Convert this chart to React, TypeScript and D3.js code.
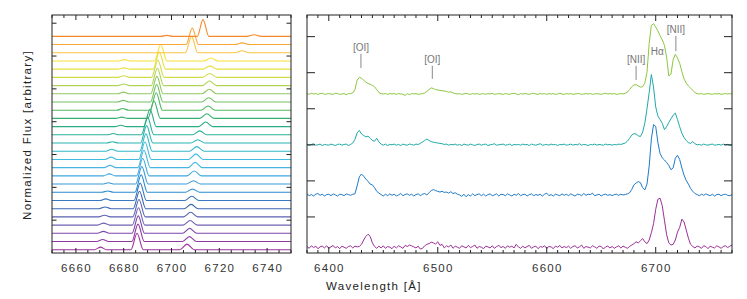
import * as d3 from 'd3';

// ---- left panel: stacked spectra, bottom (0) to top (26) ----
const leftOffsets = [
  0.1, 0.35, 0.6, 0.85, 1.1, 1.35, 1.6, 1.85, 2.1, 2.35, 2.6, 2.85, 3.1, 3.35,
  3.6, 3.85, 4.1, 4.35, 4.6, 4.85, 5.1, 5.35, 5.6, 5.85, 6.1, 6.35, 6.6,
];

const leftColors = [
  '#a0309c', '#8e3aa2', '#7b45aa', '#7060b4', '#5a62b2', '#3a66b0', '#3a78bf',
  '#2a8ccf', '#3a9ad8', '#40a8e0', '#48b4e2', '#40bce0', '#30b8c8', '#28b4b0',
  '#2ab098', '#2aac84', '#38b070', '#50b860', '#70c060', '#90c860', '#b0d458',
  '#d0dc48', '#e8e040', '#f8e038', '#f9c444', '#f8a636', '#f5882a',
];

// knots [wavelength, flux above baseline]
const leftTraces: [number, number][][] = [
  [[6650, 0], [6667.8, 0], [6670.3, 0.08], [6672.8, 0], [6683, 0], [6685.6, 0.5], [6688.2, 0], [6703.5, 0], [6706.5, 0.17], [6709.5, 0], [6750, 0]],
  [[6650, 0], [6668.7, 0], [6671.2, 0.06], [6673.7, 0], [6683.4, 0], [6686, 0.53], [6688.6, 0], [6704.5, 0], [6707.5, 0.15], [6710.5, 0], [6750, 0]],
  [[6650, 0], [6669, 0], [6671.5, 0.06], [6674, 0], [6683.5, 0], [6686.1, 0.53], [6688.7, 0], [6704.6, 0], [6707.6, 0.15], [6710.6, 0], [6750, 0]],
  [[6650, 0], [6669.1, 0], [6671.6, 0.06], [6674.1, 0], [6683.6, 0], [6686.2, 0.53], [6688.8, 0], [6704.8, 0], [6707.8, 0.14], [6710.8, 0], [6750, 0]],
  [[6650, 0], [6669.5, 0], [6672, 0.05], [6674.5, 0], [6683.8, 0], [6686.4, 0.53], [6689, 0], [6705, 0], [6708, 0.14], [6711, 0], [6750, 0]],
  [[6650, 0], [6669.7, 0], [6672.2, 0.05], [6674.7, 0], [6684, 0], [6686.6, 0.53], [6689.2, 0], [6705.2, 0], [6708.2, 0.13], [6711.2, 0], [6750, 0]],
  [[6650, 0], [6670, 0], [6672.5, 0.05], [6675, 0], [6684.3, 0], [6686.9, 0.53], [6689.5, 0], [6705.5, 0], [6708.5, 0.13], [6711.5, 0], [6750, 0]],
  [[6650, 0], [6670.8, 0], [6673.3, 0.04], [6675.8, 0], [6684.7, 0], [6687.3, 0.53], [6689.9, 0], [6705.8, 0], [6708.8, 0.1], [6711.8, 0], [6750, 0]],
  [[6650, 0], [6671.1, 0], [6673.6, 0.04], [6676.1, 0], [6685, 0], [6687.6, 0.53], [6690.2, 0], [6706.2, 0], [6709.2, 0.1], [6712.2, 0], [6750, 0]],
  [[6650, 0], [6671.5, 0], [6674, 0.06], [6676.5, 0], [6685.4, 0], [6688, 0.53], [6690.6, 0], [6706.5, 0], [6709.5, 0.15], [6712.5, 0], [6750, 0]],
  [[6650, 0], [6671.8, 0], [6674.3, 0.07], [6676.8, 0], [6685.9, 0], [6688.5, 0.53], [6691.1, 0], [6706.9, 0], [6709.9, 0.16], [6712.9, 0], [6750, 0]],
  [[6650, 0], [6672.2, 0], [6674.7, 0.07], [6677.2, 0], [6686.3, 0], [6688.9, 0.53], [6691.5, 0], [6707.2, 0], [6710.2, 0.17], [6713.2, 0], [6750, 0]],
  [[6650, 0], [6672.5, 0], [6675, 0.06], [6677.5, 0], [6686.7, 0], [6689.3, 0.53], [6691.9, 0], [6707.6, 0], [6710.6, 0.14], [6713.6, 0], [6750, 0]],
  [[6650, 0], [6672.8, 0], [6675.3, 0.04], [6677.8, 0], [6687, 0], [6689.6, 0.53], [6692.2, 0], [6708, 0], [6711, 0.1], [6714, 0], [6750, 0]],
  [[6650, 0], [6673.1, 0], [6675.6, 0.04], [6678.1, 0], [6687.4, 0], [6690, 0.53], [6692.6, 0], [6708.8, 0], [6711.8, 0.12], [6714.8, 0], [6750, 0]],
  [[6650, 0], [6676.3, 0], [6678.8, 0.04], [6681.3, 0], [6688.4, 0], [6691, 0.53], [6693.6, 0], [6711.3, 0], [6714.3, 0.14], [6717.3, 0], [6750, 0]],
  [[6650, 0], [6676.7, 0], [6679.2, 0.04], [6681.7, 0], [6690.1, 0], [6692.7, 0.53], [6695.3, 0], [6711.8, 0], [6714.8, 0.14], [6717.8, 0], [6750, 0]],
  [[6650, 0], [6677.1, 0], [6679.6, 0.05], [6682.1, 0], [6691, 0], [6693.6, 0.53], [6696.2, 0], [6712.3, 0], [6715.3, 0.13], [6718.3, 0], [6750, 0]],
  [[6650, 0], [6677.3, 0], [6679.8, 0.05], [6682.3, 0], [6691.2, 0], [6693.8, 0.53], [6696.4, 0], [6712.6, 0], [6715.6, 0.13], [6718.6, 0], [6750, 0]],
  [[6650, 0], [6677.4, 0], [6679.9, 0.05], [6682.4, 0], [6691.3, 0], [6693.9, 0.53], [6696.5, 0], [6712.8, 0], [6715.8, 0.14], [6718.8, 0], [6750, 0]],
  [[6650, 0], [6677.5, 0], [6680, 0.05], [6682.5, 0], [6691.5, 0], [6694.1, 0.53], [6696.7, 0], [6712.9, 0], [6715.9, 0.14], [6718.9, 0], [6750, 0]],
  [[6650, 0], [6677.5, 0], [6680, 0.05], [6682.5, 0], [6691.7, 0], [6694.3, 0.53], [6696.9, 0], [6713, 0], [6716, 0.12], [6719, 0], [6750, 0]],
  [[6650, 0], [6677.6, 0], [6680.1, 0.04], [6682.6, 0], [6692.3, 0], [6694.9, 0.52], [6697.5, 0], [6713.1, 0], [6716.1, 0.1], [6719.1, 0], [6750, 0]],
  [[6650, 0], [6677.8, 0], [6680.3, 0.04], [6682.8, 0], [6692.9, 0], [6695.5, 0.5], [6698.1, 0], [6713.5, 0], [6716.5, 0.09], [6719.5, 0], [6750, 0]],
  [[6650, 0], [6705.8, 0], [6708.4, 0.5], [6711, 0], [6726.5, 0], [6729.5, 0.06], [6732.5, 0], [6750, 0]],
  [[6650, 0], [6706.1, 0], [6708.7, 0.5], [6711.3, 0], [6726.6, 0], [6729.6, 0.05], [6732.6, 0], [6750, 0]],
  [[6650, 0], [6695.5, 0], [6698, 0.03], [6700.5, 0], [6710.8, 0], [6713.2, 0.51], [6715.6, 0], [6731.5, 0], [6734.5, 0.05], [6737.5, 0], [6750, 0]],
];

const leftXLabels = [6660, 6680, 6700, 6720, 6740];
const leftYTicks = [1, 2, 3, 4, 5, 6, 7];

// ---- right panel: four full spectra on a 2 A grid, 6380..6770 ----
const rightWave = d3.range(6380, 6771, 2);

const greenFlux = [
  0.01, -0.01, 0.02, 0, 0.01, -0.01, 0.01, 0.02, -0.01, 0,
  0.01, 0, -0.01, 0.02, 0.01, -0.01, 0, 0.01, -0.02, 0.01,
  0.01, 0.03, 0.12, 0.38, 0.46, 0.44, 0.38, 0.33, 0.29, 0.27,
  0.24, 0.2, 0.12, 0.04, 0.01, 0, 0.01, -0.01, 0.01, 0,
  0.01, -0.01, 0.01, 0, -0.01, -0.04, 0.01, -0.02, 0.01, 0,
  0.01, -0.01, 0, 0.01, 0.03, 0.07, 0.12, 0.17, 0.15, 0.12,
  0.11, 0.1, 0.09, 0.08, 0.07, 0.05, 0.06, 0.03, 0.01, 0,
  0.01, -0.01, 0, 0.02, 0, -0.01, 0.01, 0, 0.01, -0.01,
  0, 0.01, -0.01, 0.01, 0, 0.02, -0.01, 0, 0.01, 0,
  -0.01, 0.01, 0, -0.01, 0.01, 0.02, 0, -0.02, 0.01, 0,
  0.01, 0, -0.01, 0.01, 0.02, 0, -0.01, 0.01, 0, 0.01,
  -0.01, 0.01, 0, 0.01, -0.01, 0, 0.02, 0, -0.01, 0.01,
  0, 0.01, -0.01, 0, 0.01, 0.01, -0.01, 0, 0.01, 0,
  0.01, -0.01, 0, 0.01, 0, -0.01, 0.01, 0.02, 0, 0.01,
  0, 0.01, -0.01, 0, 0.01, 0, 0.02, 0.05, 0.12, 0.2,
  0.25, 0.26, 0.22, 0.19, 0.2, 0.3, 0.6, 1.4, 1.9, 1.95,
  1.85, 1.75, 1.62, 1.5, 1.35, 1.02, 0.5, 0.55, 0.95, 1.1,
  1.0, 0.85, 0.62, 0.42, 0.3, 0.22, 0.16, 0.1, 0.04, 0.01,
  0, 0.01, -0.01, 0, 0.01, 0, -0.01, 0.01, 0, 0.01,
  -0.01, 0, 0.01, 0, 0.01, 0,
];

const tealFlux = [
  0.02, -0.02, 0.01, 0.03, -0.01, 0, 0.02, -0.02, 0.01, 0,
  -0.01, 0.02, 0, -0.02, 0.01, 0.02, -0.01, 0.01, 0.02, -0.02,
  0.01, 0.05, 0.15, 0.33, 0.4, 0.3, 0.26, 0.22, 0.24, 0.18,
  0.12, 0.1, 0.18, 0.08, 0.02, -0.01, 0.02, -0.02, 0.01, 0,
  0.02, -0.01, 0.01, -0.02, 0.02, 0, -0.01, 0.02, 0.01, -0.01,
  0.02, 0.01, 0.04, 0.08, 0.12, 0.16, 0.12, 0.09, 0.07, 0.06,
  0.05, 0.04, 0.03, 0.01, 0.02, -0.01, 0.01, 0, 0.02, -0.01,
  0.01, -0.02, 0.02, 0, -0.01, 0.02, 0, -0.02, 0.01, 0.02,
  -0.01, 0.01, 0.02, -0.02, 0, 0.01, 0.03, -0.01, 0, 0.01,
  0.02, -0.01, 0, 0.02, -0.02, 0.01, 0, 0.01, -0.01, 0.02,
  0, 0.01, -0.02, 0.02, 0, -0.01, 0.01, 0.03, -0.01, 0,
  0.01, -0.01, 0.02, 0, 0.01, -0.02, 0.01, 0, 0.02, -0.01,
  0, 0.02, -0.01, 0.01, 0, 0.03, -0.01, 0.01, 0, -0.02,
  0.01, 0, 0.02, -0.01, 0.01, 0, -0.01, 0.02, 0, 0.01,
  -0.01, 0.01, 0, 0.02, 0.01, 0.03, 0.05, 0.1, 0.18, 0.27,
  0.31, 0.3, 0.25, 0.23, 0.35, 0.6, 1.0, 1.45, 1.95, 1.6,
  1.05, 0.8, 0.7, 0.6, 0.42, 0.5, 0.62, 0.72, 0.82, 0.88,
  0.7, 0.5, 0.32, 0.2, 0.12, 0.06, 0.04, 0.09, 0.03, 0,
  0.01, -0.01, 0.02, 0, -0.01, 0.01, 0.02, -0.01, 0, 0.01,
  -0.01, 0.02, 0, 0.01, -0.02, 0,
];

const blueFlux = [
  0.03, -0.02, 0.01, -0.03, 0.02, 0.04, -0.01, 0.02, -0.03, 0.01,
  0.02, -0.02, 0.03, 0, -0.03, 0.02, 0.01, -0.02, 0.03, 0.01,
  -0.01, 0.02, 0.03, 0.25, 0.5, 0.58, 0.52, 0.44, 0.38, 0.3,
  0.28, 0.2, 0.1, 0.05, 0.01, -0.03, 0.02, -0.02, 0.03, -0.01,
  0.02, -0.03, 0, 0.04, -0.02, 0.01, 0.03, -0.01, 0.02, -0.03,
  0.01, 0.03, -0.02, 0.02, 0.04, 0, 0.06, 0.12, 0.15, 0.12,
  0.1, 0.08, 0.1, 0.07, 0.08, 0.05, 0.09, 0.04, 0.06, 0.02,
  0, -0.04, 0.02, -0.05, 0.01, -0.03, 0.03, -0.02, 0.01, 0.03,
  -0.02, 0.02, -0.03, 0.01, 0.03, -0.02, 0, 0.03, -0.03, 0.02,
  0.01, -0.02, 0.03, 0, -0.03, 0.02, -0.01, 0.04, -0.02, 0.01,
  0.02, -0.03, 0.01, 0.03, -0.02, 0.01, -0.01, 0.02, -0.03, 0.02,
  0.05, -0.02, 0.01, -0.03, 0.02, 0, -0.02, 0.03, -0.01, 0.02,
  -0.02, 0.03, 0, -0.03, 0.02, 0.01, -0.02, 0.04, -0.01, 0.02,
  0.01, 0.05, -0.02, 0, 0.02, -0.03, 0.01, 0.02, -0.01, 0.01,
  -0.02, 0.01, 0.02, -0.01, 0.02, 0, 0.01, 0.03, 0.06, 0.15,
  0.28, 0.33, 0.37, 0.34, 0.2, 0.14, 0.3, 0.8, 1.55, 1.95,
  1.9, 1.45, 1.15, 1.03, 0.97, 0.9, 0.82, 0.7, 0.75, 1.02,
  1.1, 0.98, 0.75, 0.55, 0.4, 0.3, 0.18, 0.1, 0.04, 0.01,
  -0.02, 0.02, -0.01, 0.03, 0, -0.02, 0.02, -0.03, 0.01, 0.02,
  -0.02, 0.01, 0.02, -0.01, -0.02, 0.01,
];

const magentaFlux = [
  0.02, -0.03, 0.04, -0.01, 0.03, -0.04, 0.01, 0.03, -0.02, 0.04,
  -0.03, 0.01, 0.05, -0.02, 0.02, -0.04, 0.03, 0, -0.03, 0.02,
  0.04, -0.02, 0.03, 0.01, 0.02, 0.08, 0.2, 0.3, 0.36, 0.3,
  0.12, 0.02, -0.03, 0.03, -0.02, 0.04, -0.03, 0.02, 0, -0.04,
  0.03, -0.02, 0.04, 0.01, -0.03, 0.05, 0.02, 0.06, 0.04, 0.01,
  -0.02, 0.03, -0.05, -0.03, 0.04, 0.08, 0.1, 0.14, 0.12, 0.09,
  0.15, 0.05, 0.08, -0.02, 0.04, 0.01, 0.06, -0.03, 0.03, 0,
  -0.03, 0.04, 0.01, -0.02, 0.05, -0.01, 0.02, 0.06, -0.03, 0.02,
  0, -0.04, 0.03, 0.01, -0.02, 0.04, -0.03, 0.02, 0.05, -0.01,
  0.02, -0.03, 0.04, 0, 0.03, -0.02, 0.08, 0.01, -0.03, 0.03,
  -0.02, 0.02, 0.05, -0.03, 0.01, 0.03, -0.04, 0.02, 0, 0.04,
  -0.03, 0.02, 0.01, -0.04, 0.03, 0, 0.05, -0.02, 0.02, -0.01,
  0.03, -0.03, 0.02, 0.04, -0.02, 0.01, 0.06, -0.03, 0.02, 0,
  -0.02, 0.04, 0.01, -0.03, 0.03, 0.02, -0.05, 0.01, 0.03, -0.02,
  0.02, -0.03, 0.01, 0.04, -0.02, 0.03, 0, -0.03, 0.02, 0.06,
  0.1, 0.15, 0.12, 0.18, 0.24, 0.15, 0.1, 0.2, 0.4, 0.65,
  1.05, 1.33, 1.36, 1.15, 0.75, 0.35, 0.12, 0.06, 0.08, 0.2,
  0.42, 0.55, 0.78, 0.7, 0.48, 0.25, 0.08, 0.02, -0.02, 0.03,
  0.01, -0.03, 0.04, 0.02, -0.04, 0.03, 0, -0.02, 0.04, 0.01,
  -0.03, 0.02, 0.04, -0.01, 0.03, 0.06,
];

const rightFluxes = [greenFlux, tealFlux, blueFlux, magentaFlux];
const rightOffsets = [4.41, 3.0, 1.61, 0.16];
const rightColors = ['#8dc63f', '#1faaa8', '#1f7ac8', '#9b2f98'];

const rightXLabels = [6400, 6500, 6600, 6700];
const rightYTicks = [1, 2, 3, 4, 5, 6];

// line identifications on the top spectrum
const idLabels = ['[OI]', '[OI]', '[NII]', '[NII]'];
const idWaves = [6429.5, 6495, 6682, 6718.5];
const idTextY = [5.59, 5.28, 5.28, 6.09];
const idLineTop = [5.52, 5.19, 5.19, 6.02];
const idLineBottom = [5.13, 4.83, 4.8, 5.6];

const font = '"Liberation Sans", Arial, Helvetica, sans-serif';

export default function App() {
  const top = 15;
  const bottom = 253;

  const xL = d3.scaleLinear().domain([6650, 6750]).range([52, 291]);
  const yL = d3.scaleLinear().domain([0, 7.25]).range([bottom, top]);
  const xR = d3.scaleLinear().domain([6380, 6770]).range([307, 732]);
  const yR = d3.scaleLinear().domain([0, 6.6]).range([bottom, top]);

  const leftMinor = d3.range(6650, 6751, 5);
  const rightMinor = d3.range(6380, 6771, 10);

  const tickText = { fontFamily: font, fontSize: 11.5, letterSpacing: 1.3, fill: '#333' };

  return (
    <svg
      width={747}
      height={299}
      style={{ position: 'absolute', left: 0, top: 0, background: '#fff' }}
    >
      {/* left panel spectra */}
      {leftTraces.map((tr, i) => {
        const line = d3
          .line<[number, number]>()
          .x((d) => xL(d[0]))
          .y((d) => yL(d[1] + leftOffsets[i]))
          .curve(d3.curveMonotoneX);
        return (
          <path key={'l' + i} d={line(tr) || ''} fill="none" stroke={leftColors[i]} strokeWidth={1.1} />
        );
      })}

      {/* right panel spectra */}
      {rightFluxes.map((fl, i) => {
        const line = d3
          .line<number>()
          .x((_, k) => xR(rightWave[k]))
          .y((d) => yR(d + rightOffsets[i]));
        return (
          <path key={'r' + i} d={line(fl) || ''} fill="none" stroke={rightColors[i]} strokeWidth={1} strokeLinejoin="round" />
        );
      })}

      {/* line ids */}
      {idLabels.map((lab, i) => (
        <g key={'id' + i}>
          <text
            x={xR(idWaves[i])}
            y={yR(idTextY[i])}
            textAnchor="middle"
            fontFamily={font}
            fontSize={10}
            fill="#777"
          >
            {lab}
          </text>
          <line
            x1={xR(idWaves[i])}
            x2={xR(idWaves[i])}
            y1={yR(idLineTop[i])}
            y2={yR(idLineBottom[i])}
            stroke="#888"
            strokeWidth={1}
          />
        </g>
      ))}
      <text x={xR(6701.5)} y={yR(5.49)} textAnchor="middle" fontFamily={font} fontSize={10} fill="#777">
        Hα
      </text>

      {/* left frame + ticks */}
      <rect x={52} y={top} width={239} height={bottom - top} fill="none" stroke="#222" strokeWidth={1} />
      {leftMinor.map((v) => {
        const major = v % 20 === 0;
        const len = major ? 5 : 3;
        return (
          <g key={'lt' + v}>
            <line x1={xL(v)} x2={xL(v)} y1={bottom} y2={bottom - len} stroke="#222" />
            <line x1={xL(v)} x2={xL(v)} y1={top} y2={top + len} stroke="#222" />
          </g>
        );
      })}
      {leftYTicks.map((v) => (
        <g key={'ly' + v}>
          <line x1={52} x2={56.5} y1={yL(v)} y2={yL(v)} stroke="#222" />
          <line x1={291} x2={286.5} y1={yL(v)} y2={yL(v)} stroke="#222" />
        </g>
      ))}
      {leftXLabels.map((v) => (
        <text key={'lx' + v} x={xL(v) + 0.6} y={272} textAnchor="middle" {...tickText}>
          {v}
        </text>
      ))}

      {/* right frame + ticks */}
      <rect x={307} y={top} width={425} height={bottom - top} fill="none" stroke="#222" strokeWidth={1} />
      {rightMinor.map((v) => {
        const major = v % 100 === 0;
        const len = major ? 6 : 3;
        return (
          <g key={'rt' + v}>
            <line x1={xR(v)} x2={xR(v)} y1={bottom} y2={bottom - len} stroke="#222" />
            <line x1={xR(v)} x2={xR(v)} y1={top} y2={top + len} stroke="#222" />
          </g>
        );
      })}
      {rightYTicks.map((v) => (
        <g key={'ry' + v}>
          <line x1={307} x2={315} y1={yR(v)} y2={yR(v)} stroke="#222" />
          <line x1={732} x2={724} y1={yR(v)} y2={yR(v)} stroke="#222" />
        </g>
      ))}
      {rightXLabels.map((v) => (
        <text key={'rx' + v} x={xR(v) + 0.6} y={272} textAnchor="middle" {...tickText}>
          {v}
        </text>
      ))}

      {/* axis titles */}
      <text x={326} y={290} {...tickText} fill="#222">
        Wavelength [Å]
      </text>
      <text
        transform="translate(31,135) rotate(-90)"
        textAnchor="middle"
        {...tickText}
        fill="#222"
      >
        Normalized Flux [arbitrary]
      </text>
    </svg>
  );
}
